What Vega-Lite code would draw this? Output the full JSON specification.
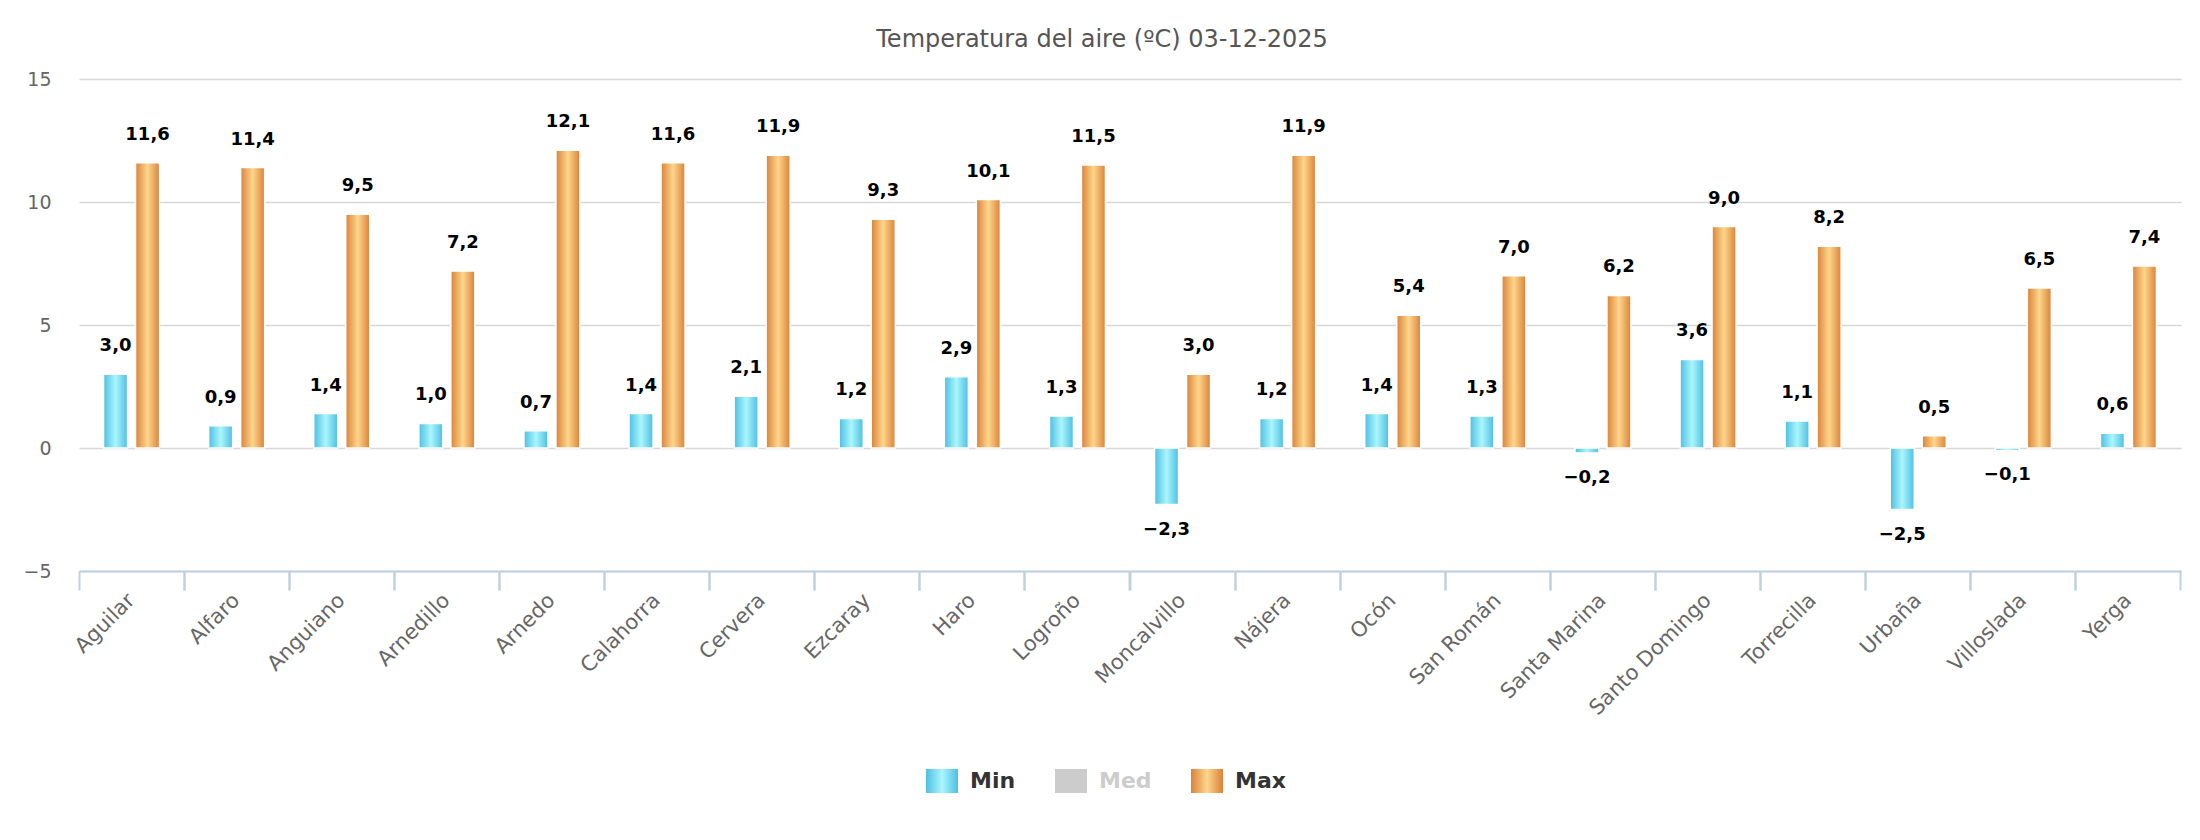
{
  "$schema": "https://vega.github.io/schema/vega-lite/v6.json",
  "width": 2102,
  "height": 492,
  "padding": {"left": 22, "right": 21, "top": 28, "bottom": 10},
  "background": "white",
  "title": {
    "text": "Temperatura del aire (ºC) 03-12-2025",
    "fontSize": 24,
    "fontWeight": "normal",
    "color": "#555555",
    "font": "DejaVu Sans",
    "offset": 18,
    "dx": -28,
    "anchor": "middle"
  },
  "config": {
    "locale": {"number": {"decimal": ",", "thousands": ".", "grouping": [3], "currency": ["", " €"]}},
    "font": "DejaVu Sans",
    "view": {"stroke": null},
    "axis": {"labelFont": "DejaVu Sans"},
    "legend": {"labelFont": "DejaVu Sans"}
  },
  "data": {
    "values": [
      {"station": "Aguilar", "series": "Min", "value": 3.0},
      {"station": "Aguilar", "series": "Max", "value": 11.6},
      {"station": "Alfaro", "series": "Min", "value": 0.9},
      {"station": "Alfaro", "series": "Max", "value": 11.4},
      {"station": "Anguiano", "series": "Min", "value": 1.4},
      {"station": "Anguiano", "series": "Max", "value": 9.5},
      {"station": "Arnedillo", "series": "Min", "value": 1.0},
      {"station": "Arnedillo", "series": "Max", "value": 7.2},
      {"station": "Arnedo", "series": "Min", "value": 0.7},
      {"station": "Arnedo", "series": "Max", "value": 12.1},
      {"station": "Calahorra", "series": "Min", "value": 1.4},
      {"station": "Calahorra", "series": "Max", "value": 11.6},
      {"station": "Cervera", "series": "Min", "value": 2.1},
      {"station": "Cervera", "series": "Max", "value": 11.9},
      {"station": "Ezcaray", "series": "Min", "value": 1.2},
      {"station": "Ezcaray", "series": "Max", "value": 9.3},
      {"station": "Haro", "series": "Min", "value": 2.9},
      {"station": "Haro", "series": "Max", "value": 10.1},
      {"station": "Logroño", "series": "Min", "value": 1.3},
      {"station": "Logroño", "series": "Max", "value": 11.5},
      {"station": "Moncalvillo", "series": "Min", "value": -2.3},
      {"station": "Moncalvillo", "series": "Max", "value": 3.0},
      {"station": "Nájera", "series": "Min", "value": 1.2},
      {"station": "Nájera", "series": "Max", "value": 11.9},
      {"station": "Ocón", "series": "Min", "value": 1.4},
      {"station": "Ocón", "series": "Max", "value": 5.4},
      {"station": "San Román", "series": "Min", "value": 1.3},
      {"station": "San Román", "series": "Max", "value": 7.0},
      {"station": "Santa Marina", "series": "Min", "value": -0.2},
      {"station": "Santa Marina", "series": "Max", "value": 6.2},
      {"station": "Santo Domingo", "series": "Min", "value": 3.6},
      {"station": "Santo Domingo", "series": "Max", "value": 9.0},
      {"station": "Torrecilla", "series": "Min", "value": 1.1},
      {"station": "Torrecilla", "series": "Max", "value": 8.2},
      {"station": "Urbaña", "series": "Min", "value": -2.5},
      {"station": "Urbaña", "series": "Max", "value": 0.5},
      {"station": "Villoslada", "series": "Min", "value": -0.1},
      {"station": "Villoslada", "series": "Max", "value": 6.5},
      {"station": "Yerga", "series": "Min", "value": 0.6},
      {"station": "Yerga", "series": "Max", "value": 7.4}
    ]
  },
  "encoding": {
    "x": {
      "field": "station",
      "type": "nominal",
      "sort": null,
      "title": null,
      "scale": {"paddingInner": 0.4672, "paddingOuter": 0.2336}
    },
    "xOffset": {
      "field": "series",
      "type": "nominal",
      "sort": ["Min", "Max"],
      "scale": {"domain": ["Min", "Max"], "paddingInner": 0.25, "paddingOuter": 0}
    },
    "y": {
      "field": "value",
      "type": "quantitative",
      "title": null,
      "scale": {"domain": [-5, 15], "nice": false, "zero": false},
      "axis": {
        "values": [-5, 0, 5, 10, 15],
        "domain": false,
        "ticks": false,
        "grid": true,
        "gridColor": "#d8d8d8",
        "gridWidth": 1.5,
        "labelFontSize": 19,
        "labelColor": "#666666",
        "labelPadding": 28
      }
    }
  },
  "resolve": {"axis": {"x": "independent"}},
  "layer": [
    {
      "mark": {"type": "bar", "stroke": "white", "strokeWidth": 1.5},
      "encoding": {
        "x": {
          "field": "station", "type": "nominal", "sort": null, "title": null,
          "axis": {
            "orient": "bottom",
            "labelAngle": -45,
            "labelFontSize": 21,
            "labelColor": "#666666",
            "labelPadding": 26,
            "labelBaseline": "middle",
            "ticks": false,
            "domain": true,
            "domainColor": "#c0d0e0",
            "domainWidth": 2,
            "grid": false
          }
        },
        "color": {
          "value": "#56c4e6",
          "condition": [
            {
              "test": "datum.series === 'Min'",
              "value": {"gradient": "linear", "x1": 0, "x2": 1, "y1": 0, "y2": 0,
                "stops": [{"offset": 0, "color": "#4dbfe3"}, {"offset": 0.5, "color": "#aaf6fc"}, {"offset": 1, "color": "#4dbfe3"}]}
            },
            {
              "test": "datum.series === 'Max'",
              "value": {"gradient": "linear", "x1": 0, "x2": 1, "y1": 0, "y2": 0,
                "stops": [{"offset": 0, "color": "#db8238"}, {"offset": 0.5, "color": "#fdd68c"}, {"offset": 1, "color": "#db8238"}]}
            }
          ]
        }
      }
    },
    {
      "mark": {
        "type": "point",
        "filled": true,
        "opacity": 0,
        "color": {"expr": "datum.label === 'Min' ? {gradient: 'linear', x1: 0, y1: 0, x2: 1, y2: 0, stops: [{offset: 0, color: '#4dbfe3'}, {offset: 0.5, color: '#aaf6fc'}, {offset: 1, color: '#4dbfe3'}]} : datum.label === 'Max' ? {gradient: 'linear', x1: 0, y1: 0, x2: 1, y2: 0, stops: [{offset: 0, color: '#db8238'}, {offset: 0.5, color: '#fdd68c'}, {offset: 1, color: '#db8238'}]} : '#cccccc'"}
      },
      "encoding": {
        "x": {"field": "station", "type": "nominal", "sort": null, "title": null, "axis": null},
        "shape": {
          "field": "series",
          "type": "nominal",
          "scale": {"domain": ["Min", "Med", "Max"], "range": ["M-1,-0.75H1V0.75H-1Z", "M-1,-0.75H1V0.75H-1Z", "M-1,-0.75H1V0.75H-1Z"]},
          "legend": {
            "title": null,
            "orient": "none",
            "legendX": 847,
            "legendY": 686,
            "direction": "horizontal",
            "symbolSize": 1024,
            "symbolStrokeWidth": 0,
            "symbolOpacity": 1,
            "labelFontSize": 22,
            "labelFontWeight": "bold",
            "labelColor": {"expr": "datum.label === 'Med' ? '#cccccc' : '#333333'"},
            "labelOffset": 12,
            "columnPadding": 39
          }
        }
      }
    },
    {
      "transform": [{"filter": "datum.value >= 0"}],
      "mark": {"type": "text", "fontSize": 18, "fontWeight": "bold", "color": "#000000", "baseline": "alphabetic", "dy": -23},
      "encoding": {
        "x": {
          "field": "station", "type": "nominal", "sort": null, "title": null,
          "axis": {
            "orient": "bottom",
            "labels": false,
            "domain": false,
            "grid": false,
            "ticks": true,
            "tickColor": "#c0d0e0",
            "tickWidth": 2,
            "tickSize": 19,
            "bandPosition": -0.4384
          }
        },
        "text": {"field": "value", "type": "quantitative", "format": ".1f"}
      }
    },
    {
      "transform": [{"filter": "datum.value < 0"}],
      "mark": {"type": "text", "fontSize": 18, "fontWeight": "bold", "color": "#000000", "baseline": "alphabetic", "dy": 30},
      "encoding": {
        "x": {
          "field": "station", "type": "nominal", "sort": null, "title": null,
          "axis": {
            "orient": "bottom",
            "labels": false,
            "domain": false,
            "grid": false,
            "ticks": true,
            "tickColor": "#c0d0e0",
            "tickWidth": 2,
            "tickSize": 19,
            "bandPosition": 1.4384
          }
        },
        "text": {"field": "value", "type": "quantitative", "format": ".1f"}
      }
    }
  ]
}
